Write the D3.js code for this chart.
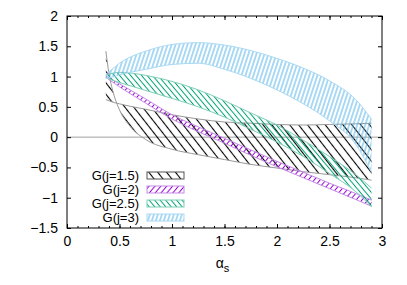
<!DOCTYPE html>
<html>
<head>
<meta charset="utf-8">
<style>
  body { margin: 0; background: #fff; }
  svg { font-family: 'Liberation Sans', Arial, sans-serif; }
</style>
</head>
<body>
<svg width="407" height="285"></svg>
<script src="https://d3js.org/d3.v7.min.js"></script>
<script>
// alpha_s grid shared by all bands
const alphaS = [0.37, 0.4, 0.45, 0.5, 0.6, 0.75, 1.0, 1.25, 1.5, 1.75, 2.0, 2.25, 2.5, 2.75, 2.9];

// G(j=1.5): the two edges cross near the left end
const g15A = [0.62, 0.6, 0.57, 0.55, 0.51, 0.46, 0.37, 0.3, 0.25, 0.23, 0.21, 0.2, 0.21, 0.22, 0.23];
const g15B = [1.42, 1.05, 0.68, 0.45, 0.18, -0.04, -0.2, -0.29, -0.37, -0.45, -0.51, -0.57, -0.62, -0.67, -0.71];
// G(j=2)
const g2Hi = [1.01, 0.98, 0.93, 0.88, 0.78, 0.63, 0.37, 0.17, -0.02, -0.21, -0.4, -0.58, -0.76, -0.93, -1.04];
const g2Lo = [0.99, 0.95, 0.89, 0.83, 0.72, 0.56, 0.3, 0.09, -0.1, -0.3, -0.49, -0.67, -0.85, -1.03, -1.14];
// G(j=2.5)
const g25Hi = [1.02, 1.04, 1.06, 1.07, 1.06, 1.02, 0.92, 0.78, 0.6, 0.4, 0.2, -0.05, -0.32, -0.62, -0.84];
const g25Lo = [0.98, 0.96, 0.93, 0.9, 0.85, 0.77, 0.64, 0.5, 0.33, 0.13, -0.08, -0.32, -0.6, -0.9, -1.15];
// G(j=3)
const g3Hi = [1.03, 1.08, 1.15, 1.22, 1.32, 1.42, 1.53, 1.56, 1.52, 1.43, 1.3, 1.14, 0.93, 0.62, 0.3];
const g3Lo = [0.97, 0.98, 1.0, 1.03, 1.07, 1.12, 1.2, 1.22, 1.12, 0.97, 0.78, 0.55, 0.27, -0.12, -0.58];

const xTicks = [0, 0.5, 1, 1.5, 2, 2.5, 3];
const yTicks = [-1.5, -1, -0.5, 0, 0.5, 1, 1.5, 2];
const labels = ["G(j=1.5)", "G(j=2)", "G(j=2.5)", "G(j=3)"];

let svg = d3.select("svg");
let margin = { top: 16, right: 25, bottom: 57, left: 67 };
let width = 407 - margin.left - margin.right;
let height = 285 - margin.top - margin.bottom;
let fs = 14;

let x = d3.scaleLinear().domain([0, 3]).range([0, width]);
let y = d3.scaleLinear().domain([-1.5, 2]).range([height, 0]);

let defs = svg.append("defs");
// hatch patterns: lines rotated by an angle
function hatch(id, color, angle, gap, sw) {
    let p = defs.append("pattern")
        .attr("id", id)
        .attr("patternUnits", "userSpaceOnUse")
        .attr("width", gap).attr("height", 10)
        .attr("patternTransform", `rotate(${angle})`);
    p.append("line")
        .attr("x1", gap / 2).attr("x2", gap / 2)
        .attr("y1", 0).attr("y2", 10)
        .attr("stroke", color).attr("stroke-width", sw);
}

let bands = [
    { lab: labels[0], hi: g15A, lo: g15B, color: "#000000", edge: "#999999", id: "h15", angle: -38, gap: 7, sw: 1.1 },
    { lab: labels[1], hi: g2Hi, lo: g2Lo, color: "#9400d3", edge: "#c58be6", id: "h2", angle: 40, gap: 4.5, sw: 1 },
    { lab: labels[2], hi: g25Hi, lo: g25Lo, color: "#009e73", edge: "#7fcfb9", id: "h25", angle: -40, gap: 4.2, sw: 1 },
    { lab: labels[3], hi: g3Hi, lo: g3Lo, color: "#56b4e9", edge: "#aad9f4", id: "h3", angle: 18, gap: 3.8, sw: 1 }
];
bands.forEach(b => hatch(b.id, b.color, b.angle, b.gap, b.sw));

let g = svg.append("g").attr("transform", `translate(${margin.left},${margin.top})`);

// zero axis
g.append("line")
    .attr("x1", 0).attr("x2", width)
    .attr("y1", y(0)).attr("y2", y(0))
    .attr("stroke", "#a0a0a0").attr("stroke-width", 1);

let area = d3.area()
    .x((d, i) => x(alphaS[i]))
    .y0(d => y(d[0]))
    .y1(d => y(d[1]))
    .curve(d3.curveMonotoneX);
let line = d3.line()
    .x((d, i) => x(alphaS[i]))
    .y(d => y(d))
    .curve(d3.curveMonotoneX);

bands.forEach(b => {
    let pts = alphaS.map((a, i) => [b.lo[i], b.hi[i]]);
    g.append("path")
        .attr("d", area(pts))
        .attr("fill", `url(#${b.id})`);
    [b.hi, b.lo].forEach(arr => {
        g.append("path")
            .attr("d", line(arr))
            .attr("fill", "none")
            .attr("stroke", b.edge)
            .attr("stroke-width", 1);
    });
});

// axes with inward ticks, mirrored
let minor = d3.range(0, 3.001, 0.1);
g.append("g").attr("transform", `translate(0,${height})`)
    .call(d3.axisBottom(x).tickValues(minor).tickSize(-2).tickFormat(""));
g.append("g")
    .call(d3.axisTop(x).tickValues(minor).tickSize(-2).tickFormat(""));
g.append("g").attr("transform", `translate(0,${height})`)
    .call(d3.axisBottom(x).tickValues(xTicks).tickSize(-4).tickPadding(8).tickFormat(d3.format("")));
g.append("g")
    .call(d3.axisTop(x).tickValues(xTicks).tickSize(-4).tickFormat(""));
g.append("g")
    .call(d3.axisLeft(y).tickValues(yTicks).tickSize(-4).tickPadding(9).tickFormat(d3.format("")));
g.append("g").attr("transform", `translate(${width},0)`)
    .call(d3.axisRight(y).tickValues(yTicks).tickSize(-4).tickFormat(""));

g.selectAll(".domain").remove();
g.selectAll(".tick line").attr("stroke", "#000");
g.selectAll(".tick text").attr("font-size", fs).attr("fill", "#000")
    .attr("font-family", "'Liberation Sans', Arial, sans-serif");

g.append("rect")
    .attr("width", width).attr("height", height)
    .attr("fill", "none").attr("stroke", "#000").attr("stroke-width", 1);

// axis title
let t = g.append("text")
    .attr("x", width / 2 - 2).attr("y", height + 40)
    .attr("text-anchor", "middle")
    .attr("font-size", fs);
t.append("tspan").text("α");
t.append("tspan").attr("font-size", 11).attr("dy", 4).text("s");

// legend
let leg = g.append("g").attr("transform", "translate(0,159.5)");
bands.forEach((b, i) => {
    let row = leg.append("g").attr("transform", `translate(0,${i * 14})`);
    row.append("text")
        .attr("x", 72).attr("y", 0)
        .attr("dy", "0.35em")
        .attr("text-anchor", "end")
        .attr("font-size", 13)
        .text(b.lab);
    row.append("rect")
        .attr("x", 80).attr("y", -3.5)
        .attr("width", 37).attr("height", 7)
        .attr("fill", `url(#${b.id})`)
        .attr("stroke", b.color === "#000000" ? "#555" : b.edge)
        .attr("stroke-width", 1);
});
</script>
</body>
</html>
